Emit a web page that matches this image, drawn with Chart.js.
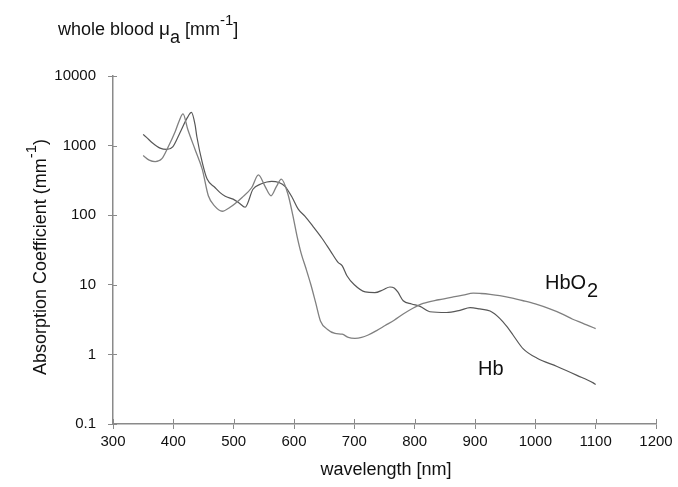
<!DOCTYPE html>
<html>
<head>
<meta charset="utf-8">
<script src="https://cdn.jsdelivr.net/npm/chart.js@4"></script>
<style>
html,body{margin:0;padding:0;background:#fff;}
canvas{display:block;}
</style>
</head>
<body>
<canvas id="c" width="678" height="487"></canvas>
<script>
// ---- data ----
const xTicks = [300,400,500,600,700,800,900,1000,1100,1200];
const yTicks = [0.1,1,10,100,1000,10000];

const hbo2Wavelength = [350,360,370,381,391,403,410,416,424,436,448,458,469,481,494,514,530,541,552,562,571,579,590,598,605,612,620,628,636,644,655,668,680,690,701,712,723,737,751,766,781,797,814,840,864,880,897,910,925,941,960,980,1000,1024,1045,1062,1079,1090,1100];
const hbo2Values = [720,620,590,650,940,1580,2300,2850,1700,880,455,190,134,114,130,180,250,380,260,190,260,330,200,100,50,28,17,10,5.5,3.0,2.3,2.0,1.95,1.75,1.7,1.75,1.9,2.2,2.6,3.1,3.8,4.6,5.4,6.1,6.7,7.1,7.6,7.5,7.3,7.0,6.5,5.9,5.3,4.5,3.8,3.2,2.8,2.55,2.35];

const hbWavelength = [350,356,365,378,389,399,411,423,430,436,439,448,456,469,477,486,499,509,519,532,545,555,563,575,585,597,607,618,632,646,660,673,680,688,700,718,734,748,759,766,772,781,795,809,825,853,875,892,908,925,941,953,963,980,1003,1036,1069,1096,1100];
const hbValues = [1450,1300,1100,920,880,960,1530,2500,3000,2000,1340,570,330,250,213,187,170,150,130,236,280,300,307,295,260,180,122,97,68,47,31,21,18.7,13.4,10,7.9,7.7,8.5,9.3,9.0,7.9,5.9,5.3,4.9,4.1,4.0,4.3,4.7,4.5,4.2,3.3,2.5,1.9,1.2,0.88,0.67,0.5,0.39,0.37];

const seriesLabels = ['HbO2','Hb'];
// label anchor positions in data units
const labelAnchors = [{x:1016,y:10.3},{x:905,y:0.6}];

const toPoints = (xs, ys) => xs.map((x,i)=>({x:x, y:ys[i]}));

const FONT = '"Liberation Sans", Arial, sans-serif';
const TXT = '#111';
const AXC = '#8a8a8a';

const decorPlugin = {
  id:'decor',
  afterDraw(chart){
    const ctx = chart.ctx;
    const xs = chart.scales.x, ys = chart.scales.y;
    const ca = chart.chartArea;
    ctx.save();
    // inner halves of the crossing tick marks
    ctx.strokeStyle = AXC; ctx.lineWidth = 1;
    xTicks.forEach(v=>{
      const px = Math.round(xs.getPixelForValue(v))+0.5;
      ctx.beginPath(); ctx.moveTo(px, ca.bottom); ctx.lineTo(px, ca.bottom-5); ctx.stroke();
    });
    yTicks.forEach(v=>{
      const py = Math.round(ys.getPixelForValue(v))+0.5;
      ctx.beginPath(); ctx.moveTo(ca.left, py); ctx.lineTo(ca.left+4, py); ctx.stroke();
    });

    ctx.fillStyle = TXT;
    ctx.textBaseline = 'alphabetic';
    ctx.textAlign = 'left';
    // top title: whole blood μa [mm-1]
    let x = 58, y = 35;
    const put = (t, f, dy) => { ctx.font = f; ctx.fillText(t, x, y+dy); x += ctx.measureText(t).width; };
    put('whole blood ', '18px '+FONT, 0);
    put('\u03bc', '19px '+FONT, 0);
    put('a', '18px '+FONT, 8);
    put(' [mm', '18px '+FONT, 0);
    put('-1', '15px '+FONT, -10);
    put(']', '18px '+FONT, 0);

    // y title (rotated)
    ctx.save();
    ctx.translate(46, 257);
    ctx.rotate(-Math.PI/2);
    const p1 = 'Absorption Coefficient (mm', p2 = '-1', p3 = ')';
    ctx.font = '18px '+FONT; const w1 = ctx.measureText(p1).width; const w3 = ctx.measureText(p3).width;
    ctx.font = '15px '+FONT; const w2 = ctx.measureText(p2).width;
    let sx = -(w1+w2+w3)/2;
    ctx.font = '18px '+FONT; ctx.fillText(p1, sx, 0); sx += w1;
    ctx.font = '15px '+FONT; ctx.fillText(p2, sx, -10); sx += w2;
    ctx.font = '18px '+FONT; ctx.fillText(p3, sx, 0);
    ctx.restore();

    // x title
    ctx.font = '18px '+FONT;
    ctx.textAlign = 'center';
    ctx.fillText('wavelength [nm]', 386, 475);

    // series labels
    ctx.textAlign = 'left';
    ctx.textBaseline = 'middle';
    labelAnchors.forEach((a,i)=>{
      let lx = xs.getPixelForValue(a.x), ly = ys.getPixelForValue(a.y);
      const name = seriesLabels[i];
      ctx.font = '20px '+FONT;
      if (name === 'HbO2') {
        ctx.fillText('HbO', lx, ly);
        const w = ctx.measureText('HbO').width;
        ctx.fillText('2', lx+w+1, ly+8);
      } else {
        ctx.fillText(name, lx, ly);
      }
    });
    ctx.restore();
  }
};

new Chart(document.getElementById('c'), {
  type:'line',
  data:{
    datasets:[
      {label:seriesLabels[0], data:toPoints(hbo2Wavelength,hbo2Values), borderColor:'#808080', borderWidth:1.3, pointRadius:0, cubicInterpolationMode:'monotone', fill:false},
      {label:seriesLabels[1], data:toPoints(hbWavelength,hbValues), borderColor:'#575757', borderWidth:1.2, pointRadius:0, cubicInterpolationMode:'monotone', fill:false}
    ]
  },
  options:{
    responsive:false,
    animation:false,
    layout:{padding:{left:0, top:76, right:22, bottom:0}},
    plugins:{legend:{display:false}, tooltip:{enabled:false}, title:{display:false}},
    scales:{
      x:{
        type:'linear', min:300, max:1200,
        afterBuildTicks(s){ s.ticks = xTicks.map(v=>({value:v})); },
        afterFit(s){ s.height = 63; },
        ticks:{font:{family:FONT,size:15}, color:TXT, padding:4, maxRotation:0, autoSkip:false,
          callback:(v)=> String(v)},
        grid:{drawOnChartArea:false, drawTicks:true, tickLength:5, color:AXC, lineWidth:1},
        border:{display:true, color:AXC, width:1.5}
      },
      y:{
        type:'logarithmic', min:0.1, max:10000,
        afterBuildTicks(s){ s.ticks = yTicks.map(v=>({value:v})); },
        afterFit(s){ s.width = 113; },
        ticks:{font:{family:FONT,size:15}, color:TXT, padding:12, autoSkip:false,
          callback:(v)=> String(v)},
        grid:{drawOnChartArea:false, drawTicks:true, tickLength:5, color:AXC, lineWidth:1},
        border:{display:true, color:AXC, width:1.5}
      }
    }
  },
  plugins:[decorPlugin]
});
</script>
</body>
</html>
